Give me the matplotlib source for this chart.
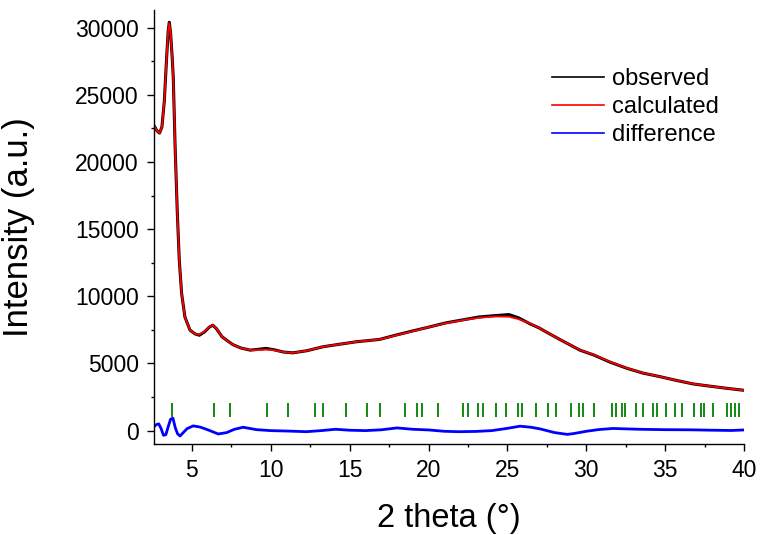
import matplotlib
matplotlib.use('Agg')
import matplotlib.pyplot as plt
from matplotlib.ticker import MultipleLocator

# datos
two_theta = [2.6, 2.8, 2.95, 3.1, 3.25, 3.4, 3.5, 3.57, 3.65, 3.75, 3.82, 3.93,
             4.07, 4.2, 4.35, 4.56, 4.88, 5.2, 5.47, 5.8, 6.1, 6.32, 6.55, 6.9,
             7.2, 7.6, 8.1, 8.7, 9.2, 9.7, 10.2, 10.8, 11.4, 12.3, 13.3, 14.3,
             15.4, 16.9, 17.9, 19.0, 20.0, 21.1, 22.2, 23.2, 24.2, 25.1, 25.7,
             26.4, 27.0, 27.45, 28.3, 29.6, 30.5, 31.5, 32.6, 33.6, 34.7, 35.7,
             36.8, 37.9, 38.9, 40.0]
observed = [22700, 22300, 22150, 22600, 24500, 27800, 29800, 30400, 29600, 27800,
            26300, 21400, 16400, 12700, 10200, 8450, 7480, 7200, 7100, 7350, 7700,
            7850, 7600, 7000, 6730, 6400, 6150, 5990, 6050, 6120, 6020, 5850, 5790,
            5950, 6240, 6420, 6610, 6790, 7100, 7420, 7700, 8020, 8250, 8460, 8560,
            8640, 8400, 7970, 7650, 7350, 6800, 5990, 5620, 5100, 4630, 4280, 4010,
            3740, 3470, 3300, 3150, 3000]
calculated = [22700, 22300, 22150, 22600, 24500, 27800, 29800, 30350, 29600, 27800,
              26300, 21400, 16400, 12700, 10200, 8450, 7480, 7200, 7150, 7380, 7720,
              7870, 7620, 7000, 6730, 6400, 6150, 5990, 6000, 6030, 5990, 5850, 5790,
              5950, 6240, 6420, 6610, 6790, 7080, 7400, 7700, 8000, 8230, 8400, 8500,
              8480, 8300, 8000, 7650, 7350, 6800, 6000, 5640, 5120, 4640, 4290, 4010,
              3740, 3480, 3300, 3150, 3000]

diff_x = [2.6, 2.75, 2.9, 3.05, 3.2, 3.35, 3.5, 3.65, 3.8, 3.95, 4.1, 4.25, 4.45,
          4.7, 5.08, 5.5, 5.8, 6.14, 6.67, 7.2, 7.7, 8.25, 9.1, 10.0, 11.0, 12.26,
          13.2, 14.1, 15.0, 16.0, 17.0, 18.0, 19.0, 20.0, 21.0, 21.9, 23.0, 24.0,
          24.9, 25.8, 26.5, 27.1, 28.0, 28.8, 29.2, 30.0, 30.8, 31.7, 32.5, 33.4,
          35.0, 36.6, 38.0, 39.2, 40.0]
difference = [300, 450, 500, 150, -350, -300, 300, 850, 920, 200, -250, -400, -150,
              150, 350, 270, 150, 0, -250, -150, 100, 250, 70, 0, -30, -80,
              0, 100, 30, 0, 60, 200, 100, 50, -50, -80, -60, 0,
              150, 330, 250, 120, -150, -280, -220, -50, 80, 160, 130, 100,
              70, 60, 30, 10, 50]

# posiciones de Bragg
bragg = [3.71, 6.41, 7.41, 9.75, 11.08, 12.78, 13.31, 14.77, 16.12, 16.94, 18.50,
         19.24, 19.59, 20.61, 22.20, 22.49, 23.12, 23.44, 24.28, 24.89, 25.70,
         25.95, 26.79, 27.55, 28.08, 29.03, 29.51, 29.79, 30.49, 31.63, 31.88,
         32.28, 32.47, 33.16, 33.59, 34.22, 34.47, 35.06, 35.63, 36.08, 36.84,
         37.28, 37.47, 38.04, 38.94, 39.18, 39.41, 39.70]

plt.rcParams['font.family'] = ['Liberation Sans', 'DejaVu Sans']

fig = plt.figure(figsize=(7.61, 5.35), dpi=100)
ax = fig.add_axes([0.2024, 0.170, 0.7753, 0.811])

ax.plot(two_theta, observed, color='black', lw=2.2, label='observed')
ax.plot(two_theta, calculated, color='red', lw=1.3, label='calculated')
ax.plot(diff_x, difference, color='blue', lw=2.0, label='difference')
ax.vlines(bragg, 1050, 2050, color='green', lw=1.3)

ax.set_xlim(2.6, 40)
ax.set_ylim(-1000, 31300)
ax.xaxis.set_major_locator(MultipleLocator(5))
ax.xaxis.set_minor_locator(MultipleLocator(2.5))
ax.yaxis.set_major_locator(MultipleLocator(5000))
ax.yaxis.set_minor_locator(MultipleLocator(2500))

ax.spines['top'].set_visible(False)
ax.spines['right'].set_visible(False)
for s in ['left', 'bottom']:
    ax.spines[s].set_linewidth(1.0)
ax.tick_params(which='major', direction='out', length=5, width=1.0,
               labelsize=16.5, pad=6)
ax.tick_params(which='minor', direction='out', length=2.5, width=1.0)

ax.set_xlabel('2 theta (°)', fontsize=23.5, labelpad=15)
ax.set_ylabel('Intensity (a.u.)', fontsize=25)
ax.yaxis.set_label_coords(-0.202, 0.5)

leg = ax.legend(loc='upper left', bbox_to_anchor=(0.7254, 0.872),
                bbox_transform=fig.transFigure, frameon=False, fontsize=17,
                handlelength=2.2, handletextpad=0.35, labelspacing=0.25,
                borderpad=0, borderaxespad=0)
for h in leg.get_lines():
    h.set_linewidth(1.2)

fig.savefig('out.png', dpi=100)
